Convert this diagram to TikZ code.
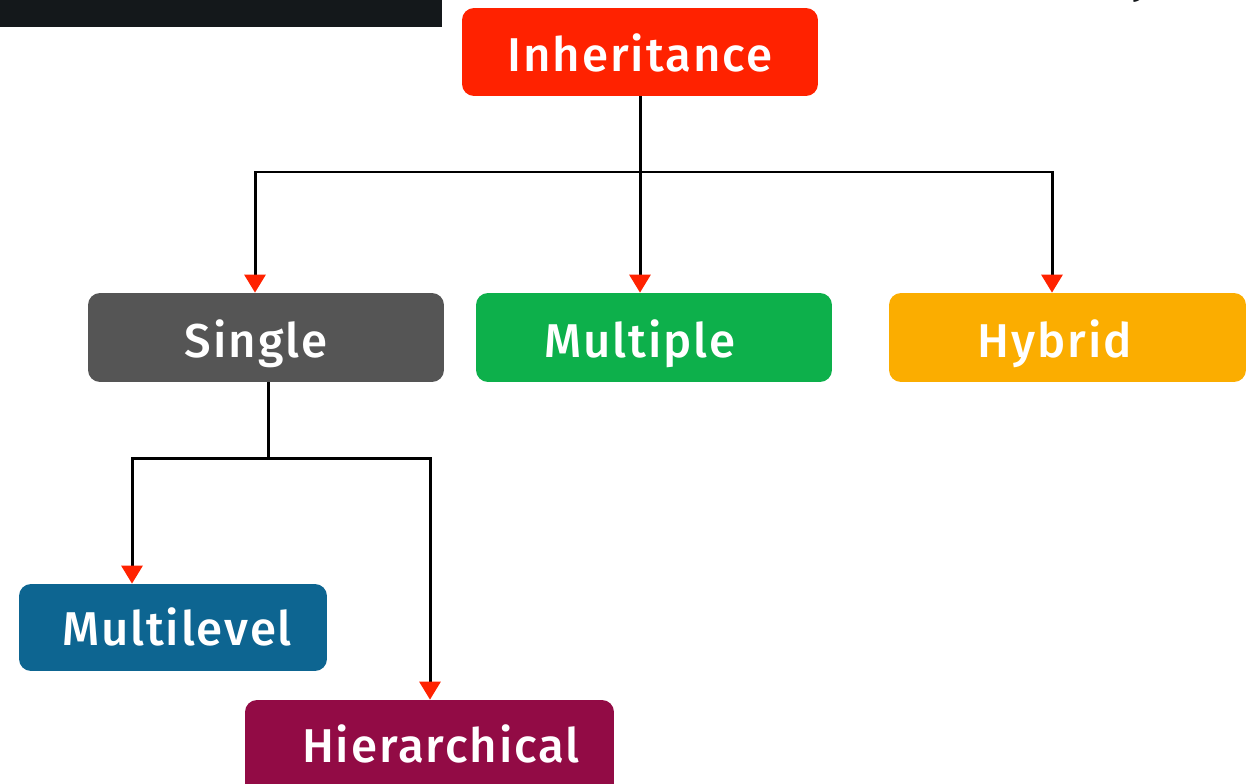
\documentclass[tikz,border=0pt]{standalone}
\usepackage{fontspec}
\setmainfont{Fira Sans}
\newfontfamily\labelfont{Fira Sans Medium}
\usetikzlibrary{arrows.meta}
\definecolor{inhred}{HTML}{FF2200}
\definecolor{singlegray}{HTML}{555555}
\definecolor{multgreen}{HTML}{0DB04B}
\definecolor{hybridorange}{HTML}{FBAD00}
\definecolor{mlblue}{HTML}{0D6591}
\definecolor{hiermaroon}{HTML}{920B45}
\definecolor{tipred}{HTML}{FF2200}
\definecolor{barblack}{HTML}{14181B}
\tikzset{
  box/.style={rounded corners=0.24cm, inner sep=0pt, minimum height=1.76cm},
  lbl/.style={text=white, anchor=base, font=\fontsize{27}{28}\labelfont\addfontfeature{LetterSpace=4}},
  wire/.style={line width=0.06cm, black},
  arr/.style={wire, -{Triangle[width=0.42cm, length=0.36cm, color=tipred]}}
}
\begin{document}
\begin{tikzpicture}[x=0.02cm, y=-0.02cm]
  \useasboundingbox (0,0) rectangle (1255,784);
  % dark strip at the top left
  \fill[barblack] (0,0) rectangle (442,27);
  % descender of a glyph from a line above the frame
  \node[anchor=base, text=barblack, font=\fontsize{24}{24}\selectfont] (cut) at (1142,-6) {y};

  % boxes
  \node[box, fill=inhred, minimum width=7.12cm] (inh) at (640,52) {};
  \node[box, fill=singlegray, minimum width=7.12cm, minimum height=1.78cm] (single) at (266,337.5) {};
  \node[box, fill=multgreen, minimum width=7.12cm, minimum height=1.78cm] (multiple) at (654,337.5) {};
  \node[box, fill=hybridorange, minimum width=7.14cm, minimum height=1.78cm] (hybrid) at (1067.5,337.5) {};
  \node[box, fill=mlblue, minimum width=6.16cm, minimum height=1.74cm] (multilevel) at (173,627.5) {};
  \node[box, fill=hiermaroon, minimum width=7.38cm, minimum height=1.9cm] (hier) at (429.5,747.5) {};

  % labels
  \node[lbl] (tinh) at (640,72) {Inheritance};
  \node[lbl] (tsingle) at (256,357) {Single};
  \node[lbl] (tmultiple) at (640,357) {Multiple};
  \node[lbl] (thybrid) at (1055,357) {Hybrid};
  \node[lbl] (tmultilevel) at (177,645) {Multilevel};
  \node[lbl] (thier) at (441,762) {Hierarchical};

  % first level connectors
  \coordinate (top) at (640,172);
  \coordinate (tl) at (255,172);
  \coordinate (tr) at (1052,172);
  \draw[wire] (inh.south) -- (top);
  \draw[wire, line cap=rect] (tl) -- (tr);
  \draw[arr] (tl) -- (tl |- single.north);
  \draw[arr] (top) -- (top |- multiple.north);
  \draw[arr] (tr) -- (tr |- hybrid.north);

  % second level connectors
  \coordinate (mid) at (268,458);
  \coordinate (ml) at (132,458);
  \coordinate (mr) at (430,458);
  \draw[wire] (mid |- single.south) -- (mid);
  \draw[wire, line cap=rect] (ml) -- (mr);
  \draw[arr] (ml) -- (ml |- multilevel.north);
  \draw[arr] (mr) -- (mr |- hier.north);
\end{tikzpicture}
\end{document}
